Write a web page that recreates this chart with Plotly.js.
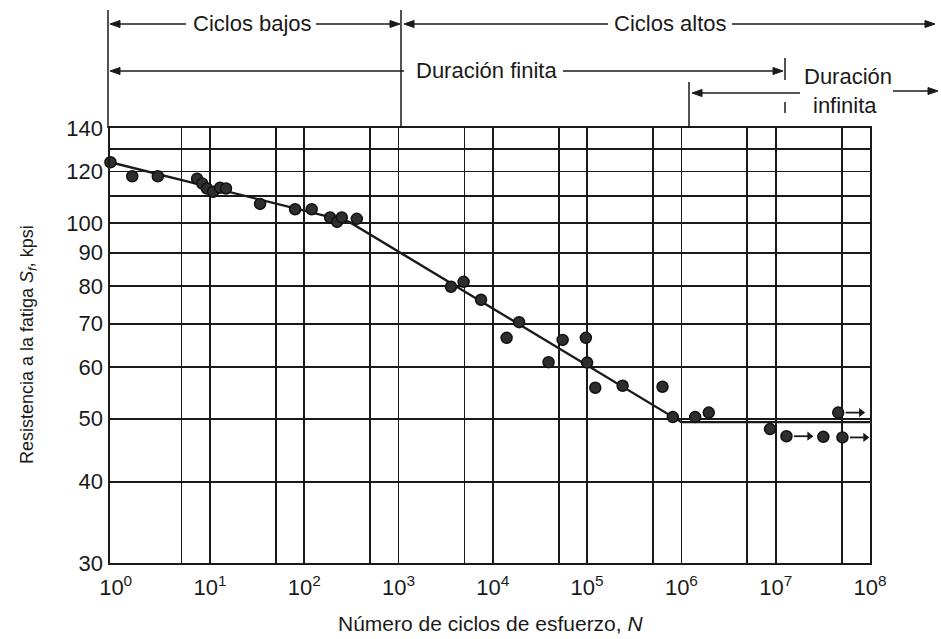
<!DOCTYPE html>
<html>
<head>
<meta charset="utf-8">
<script src="https://cdn.plot.ly/plotly-3.0.1.min.js"></script>
<style>html,body{margin:0;padding:0;background:#fff;}#chart{width:941px;height:639px;}</style>
</head>
<body>
<div id="chart"></div>
<script>
// ---- data ----
const cycles = [0.88, 1.5, 2.8, 7.3, 8.3, 9.3, 10.8, 12.8, 14.8, 34, 80, 120, 188, 223, 250, 361,
  3600, 4900, 7500, 19000, 14000, 55000, 97000, 39000, 100000, 122000, 238000, 630000,
  810000, 1.4e6, 1.95e6, 8.7e6, 1.3e7, 3.2e7, 5.1e7, 4.6e7];
const strength = [124, 118, 118, 117, 115, 113, 111.7, 113.3, 113, 107, 105, 105, 102, 100.4, 102, 101.5,
  79.8, 81.2, 76.2, 70.4, 66.6, 66.1, 66.6, 61.1, 61, 55.8, 56.2, 56,
  50.3, 50.3, 51.1, 48.2, 47, 46.9, 46.8, 51.1];
const runoutN = [1.3e7, 5.1e7, 4.6e7];
const runoutS = [47, 46.8, 51.1];
const fitN = [0.88, 300, 1e6, 1e8];
const fitS = [124, 100.4, 49.4, 49.4];
const xGridVals = [5, 10, 50, 100, 500, 1e3, 5e3, 1e4, 5e4, 1e5, 5e5, 1e6, 5e6, 1e7, 5e7, 1e8];
const xLabelVals = [1, 10, 100, 1e3, 1e4, 1e5, 1e6, 1e7, 1e8];
const xLabelText = ['10<sup>0</sup>', '10<sup>1</sup>', '10<sup>2</sup>', '10<sup>3</sup>', '10<sup>4</sup>',
  '10<sup>5</sup>', '10<sup>6</sup>', '10<sup>7</sup>', '10<sup>8</sup>'];
const yGridVals = [30, 40, 50, 60, 70, 80, 90, 100, 110, 120, 130, 140];
const yLabelVals = [30, 40, 50, 60, 70, 80, 90, 100, 120, 140];
const yLabelText = ['30', '40', '50', '60', '70', '80', '90', '100', '120', '140'];

// ---- layout helpers ----
const W = 941, H = 639, L = 110, R = 870, T = 128, B = 563;
const px = p => (p - L) / (R - L);
const py = p => (B - p) / (B - T);
const ink = '#1a1a1a';
const FONT = 'Liberation Sans, Arial, sans-serif';

// runout arrows built from the runout data
const arrX = [], arrY = [], headX = [], headY = [];
runoutN.forEach((n, i) => {
  arrX.push(n * 1.2, n * 1.7, null); arrY.push(runoutS[i], runoutS[i], null);
  headX.push(n * 1.75); headY.push(runoutS[i]);
});

const traces = [
  {x: fitN, y: fitS, type: 'scatter', mode: 'lines', line: {color: ink, width: 2.4},
   hoverinfo: 'skip', showlegend: false, cliponaxis: false},
  {x: cycles, y: strength, type: 'scatter', mode: 'markers',
   marker: {size: 11, color: '#2e2e2e', line: {color: '#111', width: 1.5}},
   showlegend: false, cliponaxis: false},
  {x: arrX, y: arrY, xaxis: 'x2', yaxis: 'y2', type: 'scatter', mode: 'lines',
   line: {color: ink, width: 1.8}, hoverinfo: 'skip', showlegend: false, cliponaxis: false},
  {x: headX, y: headY, xaxis: 'x2', yaxis: 'y2', type: 'scatter', mode: 'markers',
   marker: {symbol: 'triangle-right', size: 8, color: ink}, hoverinfo: 'skip', showlegend: false,
   cliponaxis: false}
];

const shapes = [];
function seg(x0, y0, x1, y1, w) {
  shapes.push({type: 'line', xref: 'paper', yref: 'paper', x0: px(x0), x1: px(x1), y0: py(y0), y1: py(y1),
    line: {color: ink, width: w || 1.5}});
}
// arrow from tail x0 to head x1 at pixel row y
function arrow(x0, x1, y) {
  const d = x1 > x0 ? 1 : -1;
  seg(x0, y, x1 - d * 6, y, 1.4);
  const p = [[x1, y], [x1 - d * 10, y - 3.5], [x1 - d * 10, y + 3.5]];
  shapes.push({type: 'path', xref: 'paper', yref: 'paper',
    path: 'M ' + p.map(q => px(q[0]) + ',' + py(q[1])).join(' L ') + ' Z',
    fillcolor: ink, line: {color: ink, width: 1}});
}
arrow(186, 110, 24); arrow(316, 400, 24);
arrow(608, 404, 24); arrow(732, 935, 24);
arrow(404, 110, 71); arrow(563, 783, 71);
arrow(800, 692, 93); arrow(893, 938, 91);
seg(108, 10, 108, 128); seg(401, 10, 401, 128); seg(689, 82, 689, 128);
seg(785, 58, 785, 80); seg(785, 102, 785, 113);

const annotations = [];
function label(text, x, y, size) {
  annotations.push({x: px(x), y: py(y), xref: 'paper', yref: 'paper', text: text, showarrow: false,
    font: {family: FONT, size: size || 22, color: ink}, xanchor: 'center', yanchor: 'middle'});
}
label('Ciclos bajos', 252, 24);
label('Ciclos altos', 670, 24);
label('Duración finita', 486, 71);
label('Duración', 848, 76);
label('infinita', 845, 106);
label('Número de ciclos de esfuerzo, <i>N</i>', 490, 623, 21);
annotations.push({x: px(28), y: py(345), xref: 'paper', yref: 'paper', textangle: -90,
  text: 'Resistencia a la fatiga <i>S<sub>f</sub></i>, kpsi', showarrow: false,
  font: {family: FONT, size: 18, color: ink}, xanchor: 'center', yanchor: 'middle'});

const xr = [-0.06, 8];
const yr = [Math.log10(30), Math.log10(140)];
const layout = {
  width: W, height: H,
  margin: {l: L, r: W - R, t: T, b: H - B, pad: 0},
  paper_bgcolor: '#fff', plot_bgcolor: '#fff',
  font: {family: FONT, color: ink},
  showlegend: false,
  xaxis: {type: 'log', range: xr, tickmode: 'array', tickvals: xGridVals, showticklabels: false,
    showgrid: true, gridcolor: ink, gridwidth: 1.8, zeroline: false,
    showline: true, mirror: true, linecolor: ink, linewidth: 2, ticks: ''},
  yaxis: {type: 'log', range: yr, tickmode: 'array', tickvals: yGridVals, showticklabels: false,
    showgrid: true, gridcolor: ink, gridwidth: 1.8, zeroline: false,
    showline: true, mirror: true, linecolor: ink, linewidth: 2, ticks: ''},
  xaxis2: {type: 'log', range: xr, overlaying: 'x', anchor: 'y2', side: 'bottom',
    tickmode: 'array', tickvals: xLabelVals, ticktext: xLabelText, showgrid: false, zeroline: false,
    showline: false, ticks: '', ticklabelstandoff: 9, tickfont: {family: FONT, size: 22, color: ink}},
  yaxis2: {type: 'log', range: yr, overlaying: 'y', anchor: 'x2', side: 'left',
    tickmode: 'array', tickvals: yLabelVals, ticktext: yLabelText.map(t => t + '\u00a0'),
    showgrid: false, zeroline: false, showline: false, ticks: '',
    tickfont: {family: FONT, size: 22, color: ink}},
  annotations: annotations,
  shapes: shapes
};
Plotly.newPlot('chart', traces, layout, {staticPlot: true, displayModeBar: false});
</script>
</body>
</html>
